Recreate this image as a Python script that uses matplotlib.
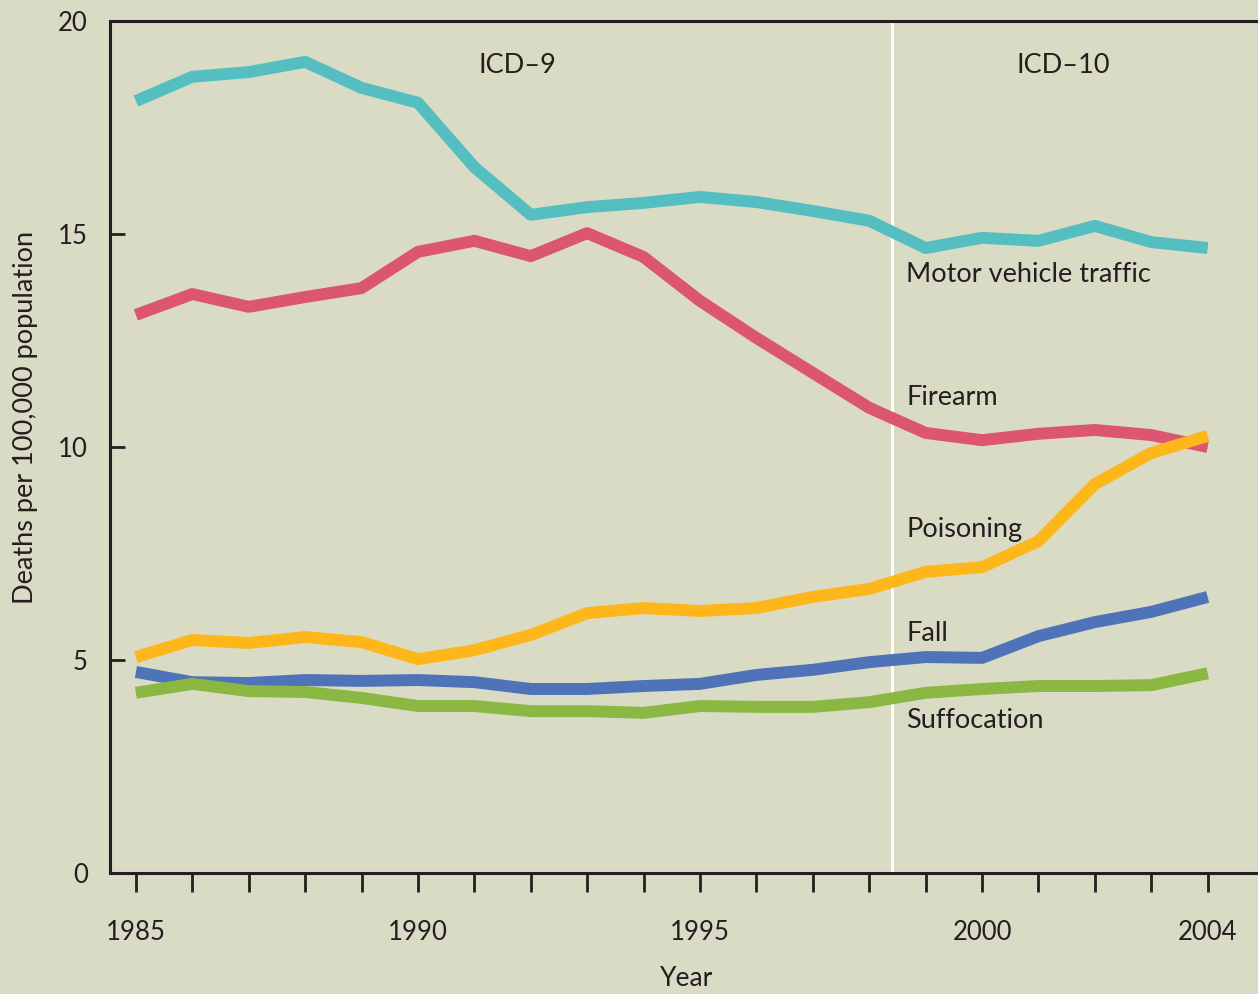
import matplotlib
matplotlib.use("Agg")
import matplotlib.pyplot as plt

plt.rcParams["font.family"] = ["Lato", "DejaVu Sans"]

years = list(range(1985, 2005))

motor_vehicle = [18.12, 18.69, 18.80, 19.04, 18.43, 18.08, 16.57, 15.45, 15.63, 15.73,
                 15.87, 15.75, 15.54, 15.31, 14.67, 14.91, 14.84, 15.19, 14.81, 14.67]
firearm = [13.10, 13.59, 13.29, 13.52, 13.73, 14.58, 14.84, 14.48, 15.02, 14.46,
           13.43, 12.56, 11.74, 10.92, 10.33, 10.16, 10.31, 10.40, 10.28, 10.00]
poisoning = [5.07, 5.47, 5.40, 5.54, 5.42, 5.02, 5.23, 5.59, 6.10, 6.22,
             6.15, 6.22, 6.48, 6.67, 7.07, 7.18, 7.79, 9.13, 9.86, 10.26]
fall = [4.72, 4.48, 4.46, 4.53, 4.51, 4.53, 4.48, 4.32, 4.32, 4.39,
        4.44, 4.65, 4.77, 4.95, 5.07, 5.05, 5.56, 5.89, 6.13, 6.48]
suffocation = [4.23, 4.44, 4.27, 4.25, 4.11, 3.92, 3.92, 3.80, 3.80, 3.76,
               3.92, 3.90, 3.90, 4.01, 4.23, 4.32, 4.39, 4.39, 4.41, 4.69]

series_names = ["Motor vehicle traffic", "Firearm", "Poisoning", "Fall", "Suffocation"]
label_y = [13.88, 10.99, 7.88, 5.45, 3.40]
colors = ["#55bec0", "#dc5672", "#fdb71a", "#4e73b8", "#8ab842"]

bg = "#dadbc5"
ink = "#231f20"

fig = plt.figure(figsize=(12.58, 9.94), dpi=100, facecolor=bg)
ax = fig.add_axes([0.0874, 0.1217, 0.9125, 0.8572], facecolor=bg)

ax.axvline(1998.4, color="white", lw=2.2, zorder=1)

for vals, c in zip([motor_vehicle, firearm, poisoning, fall, suffocation], colors):
    ax.plot(years, vals, color=c, lw=8.6, solid_capstyle="butt", zorder=2)

for name, y in zip(series_names, label_y):
    ax.text(1998.66, y, name, fontsize=19.5, color=ink, va="baseline", ha="left")

ax.text(1991.76, 18.77, "ICD\u20139", fontsize=19.5, color=ink, va="baseline", ha="center")
ax.text(2001.44, 18.77, "ICD\u201310", fontsize=19.5, color=ink, va="baseline", ha="center")

ax.set_xlim(1984.54, 2004.89)
ax.set_ylim(0, 20)

ax.set_xticks(years)
ax.set_xticklabels([str(y) if y in (1985, 1990, 1995, 2000, 2004) else "" for y in years])
ax.set_yticks([0, 5, 10, 15, 20])

ax.tick_params(axis="x", direction="out", length=14, width=2, color=ink,
               labelsize=18.5, labelcolor=ink, pad=20)
ax.tick_params(axis="y", direction="in", length=11, width=2, color=ink,
               labelsize=18.5, labelcolor=ink, pad=16)

for side in ["left", "bottom", "top"]:
    ax.spines[side].set_color(ink)
    ax.spines[side].set_linewidth(2.2)
ax.spines["right"].set_color("#b8b8a8")
ax.spines["right"].set_linewidth(1)

fig.text(0.02, 0.58, "Deaths per 100,000 population", rotation=90, fontsize=19.5,
         color=ink, ha="center", va="center")
fig.text(0.546, 0.016, "Year", fontsize=19, color=ink, ha="center", va="center")

fig.savefig("out.png", dpi=100, facecolor=bg)
